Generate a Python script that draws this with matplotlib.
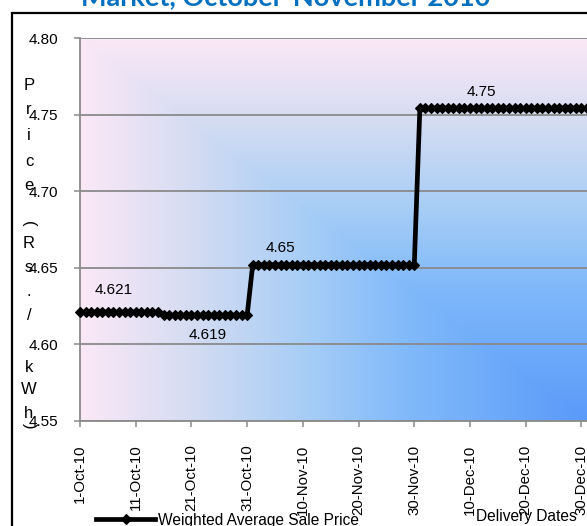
import numpy as np
import pandas as pd
import matplotlib
matplotlib.use("Agg")
import matplotlib.pyplot as plt
import matplotlib.transforms as mtransforms
from matplotlib.colors import LinearSegmentedColormap
from matplotlib.patches import Rectangle

plt.rcParams['font.family'] = ['Liberation Sans', 'DejaVu Sans']

# step levels of the weighted average price and how many days each one lasts
level_values = [4.621, 4.619, 4.652, 4.754]
level_days = [15, 16, 30, 31]
start_date = '2010-10-01'

tick_labels = ['1-Oct-10', '11-Oct-10', '21-Oct-10', '31-Oct-10', '10-Nov-10',
               '20-Nov-10', '30-Nov-10', '10-Dec-10', '20-Dec-10', '30-Dec-10']

# data labels: which day they sit on, decimals shown, offset in points
label_index = [6, 23, 36, 72]
label_decimals = [3, 3, 2, 2]
label_offset = [16, -14.5, 12, 12]

series_name = 'Weighted Average Sale Price'
title_text = 'Market, October-November 2010'

dates = pd.date_range(start_date, periods=sum(level_days), freq='D')
prices = np.repeat(level_values, level_days)

W, H = 587, 526
fig = plt.figure(figsize=(W / 100, H / 100), dpi=100)
ax = fig.add_axes([80 / W, 105 / H, 507 / W, 383 / H])

# chart area border (black) and the clipped title above it
fig.add_artist(Rectangle((12 / W, -0.1), 1.2, (H - 13) / H + 0.1,
                         transform=fig.transFigure, fill=False,
                         ec='black', lw=1.6))
fig.text(286 / W, 1 - 5 / H, title_text, ha='center', va='baseline',
         fontsize=19.5, fontweight='bold', color='#0070C0', family='Lato')

# gradient fill of the plot area, darkest at the lower right corner
u = np.linspace(0, 1, 400)
v = np.linspace(0, 1, 300)
U, V = np.meshgrid(u, v)
s = np.maximum(1 - U, V)
cmap = LinearSegmentedColormap.from_list('fill', [
    (0.0, '#5a9af9'), (0.35, '#80b9fa'), (0.55, '#a6cdf6'),
    (0.78, '#d4dcf2'), (1.0, '#fbe8f7')])
ax.imshow(s, extent=[0, 1, 0, 1], origin='lower', transform=ax.transAxes,
          cmap=cmap, vmin=0, vmax=1, aspect='auto', zorder=0,
          interpolation='bilinear')

line, = ax.plot(dates, prices, color='black', lw=3.4, marker='D',
                markersize=5.2, markeredgewidth=0.8, zorder=3,
                clip_on=False, label=series_name)

for idx, dec, off in zip(label_index, label_decimals, label_offset):
    ax.annotate(f'{prices[idx]:.{dec}f}', (dates[idx], prices[idx]),
                xytext=(0, off), textcoords='offset points',
                ha='center', va='center', fontsize=11)

ax.set_xlim(dates[0], dates[-1])
ax.set_ylim(4.55, 4.80)
ax.set_yticks(np.arange(4.55, 4.801, 0.05))
ax.set_yticklabels([f'{t:.2f}' for t in np.arange(4.55, 4.801, 0.05)])

tick_dates = pd.date_range(start_date, periods=len(tick_labels), freq='10D')
ax.set_xticks(tick_dates)
ax.set_xticklabels(tick_labels, rotation=90)
shift = mtransforms.ScaledTranslation(3 / 100, 0, fig.dpi_scale_trans)
for lab in ax.get_xticklabels():
    lab.set_transform(lab.get_transform() + shift)

ax.yaxis.grid(True, color='#8a8a8a', lw=1.3)
ax.set_axisbelow(True)
for side in ['top', 'right']:
    ax.spines[side].set_visible(False)
for side in ['left', 'bottom']:
    ax.spines[side].set_color('#8a8a8a')
    ax.spines[side].set_linewidth(1.3)
ax.tick_params(axis='y', direction='out', length=4, width=1.1,
               color='#8a8a8a', pad=12, labelsize=11)
ax.tick_params(axis='x', direction='out', length=4, width=1.1,
               color='#8a8a8a', pad=13, labelsize=10.8)

ax.set_xlabel('Delivery Dates', fontsize=11.2)
ax.xaxis.set_label_coords(446 / 507, -88 / 383)

# stacked axis title, one character per row, brackets turned sideways
ylabel_chars = list('Price(Rs./kWh)')
ylabel_rows = [85, 110, 136, 161, 186, 224, 243, 268, 292, 316, 367, 390, 413, 426]
for ch, row in zip(ylabel_chars, ylabel_rows):
    fig.text(29 / W, 1 - row / H, ch, ha='center', va='center', fontsize=12,
             rotation=-90 if ch in '()' else 0)

fig.legend(handles=[line], loc='center left',
           bbox_to_anchor=(96 / W, 1 - 520 / H), frameon=False,
           borderpad=0, borderaxespad=0, handlelength=3.8,
           handletextpad=0.2, fontsize=11.2, numpoints=1)

fig.savefig('out.png', dpi=100)
